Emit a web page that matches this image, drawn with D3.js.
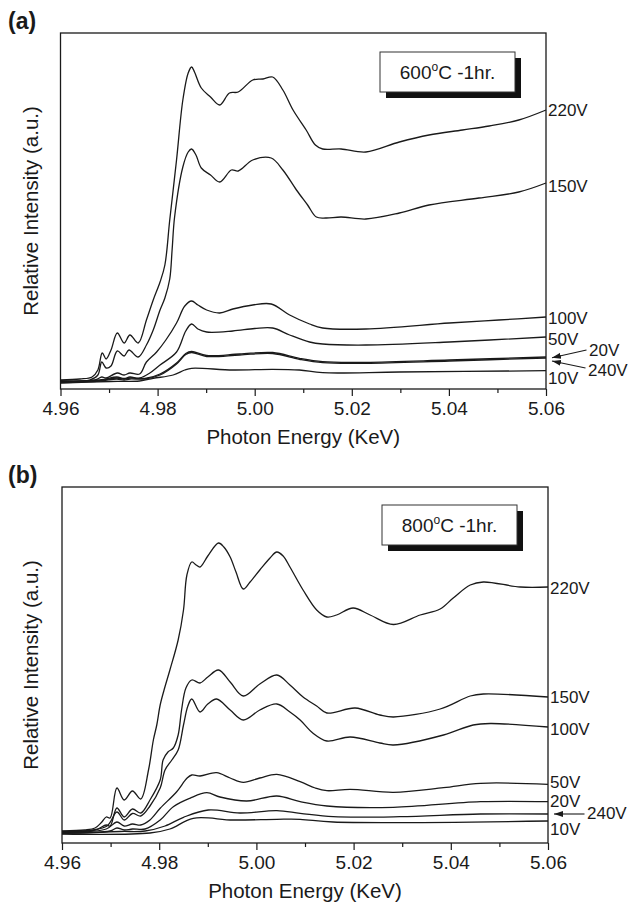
<!DOCTYPE html>
<html>
<head>
<meta charset="utf-8">
<script src="https://cdn.jsdelivr.net/npm/d3@7"></script>
<style>
  body { margin: 0; background: #fff; }
</style>
</head>
<body>
<svg id="chart" width="629" height="903"></svg>
<script>
// x ticks (keV)
const majorTicks = [4.96, 4.98, 5.00, 5.02, 5.04, 5.06];
const minorTicks = [4.97, 4.99, 5.01, 5.03, 5.05];

// (a) 600C - 1hr, [energy keV, relative intensity a.u.]
const a220 = [[4.960,0.09],[4.964,0.10],[4.9665,0.12],[4.9677,0.19],[4.9686,0.36],[4.9694,0.30],[4.9704,0.39],[4.9717,0.56],[4.9731,0.46],[4.9743,0.54],[4.9760,0.46],[4.9777,0.69],[4.9791,0.89],[4.9805,1.07],[4.9815,1.24],[4.9825,1.69],[4.9839,2.29],[4.9852,2.89],[4.9863,3.16],[4.9870,3.22],[4.9876,3.17],[4.9890,3.01],[4.9909,2.92],[4.9928,2.84],[4.9948,2.96],[4.9966,2.97],[4.9996,3.09],[5.0017,3.10],[5.0037,3.12],[5.0058,2.99],[5.0079,2.79],[5.0106,2.59],[5.0125,2.44],[5.0140,2.40],[5.0178,2.40],[5.0229,2.37],[5.0298,2.47],[5.0359,2.54],[5.0428,2.59],[5.0483,2.63],[5.0544,2.69],[5.0600,2.79]];
const a150 = [[4.960,0.08],[4.966,0.09],[4.9677,0.14],[4.9685,0.27],[4.9694,0.21],[4.9704,0.23],[4.9717,0.38],[4.9731,0.33],[4.9741,0.39],[4.9760,0.32],[4.9777,0.44],[4.9791,0.59],[4.9805,0.79],[4.9815,0.91],[4.9825,1.10],[4.9830,1.40],[4.9835,1.72],[4.9852,2.22],[4.9863,2.37],[4.9870,2.40],[4.9879,2.34],[4.9890,2.21],[4.9909,2.14],[4.9928,2.07],[4.9952,2.19],[4.9966,2.18],[4.9996,2.29],[5.0034,2.31],[5.0058,2.19],[5.0086,1.99],[5.0109,1.84],[5.0127,1.72],[5.0147,1.71],[5.0178,1.72],[5.0229,1.70],[5.0298,1.76],[5.0359,1.84],[5.0462,1.91],[5.0544,1.97],[5.0600,2.06]];
const a100 = [[4.960,0.08],[4.9671,0.09],[4.9685,0.12],[4.9694,0.11],[4.9717,0.16],[4.9731,0.14],[4.9743,0.16],[4.9763,0.15],[4.9777,0.27],[4.9798,0.37],[4.9817,0.49],[4.9839,0.66],[4.9856,0.83],[4.9870,0.88],[4.9883,0.84],[4.9901,0.79],[4.9928,0.76],[4.9955,0.80],[4.9996,0.84],[5.0034,0.85],[5.0072,0.74],[5.0113,0.65],[5.0140,0.61],[5.0229,0.60],[5.0401,0.66],[5.0503,0.69],[5.0600,0.72]];
const a50 = [[4.960,0.075],[4.9681,0.09],[4.9716,0.12],[4.9731,0.105],[4.9743,0.12],[4.9763,0.11],[4.9784,0.16],[4.9805,0.24],[4.9839,0.37],[4.9858,0.58],[4.9870,0.65],[4.9883,0.60],[4.9901,0.57],[4.9955,0.58],[5.0000,0.605],[5.0037,0.61],[5.0072,0.54],[5.0113,0.47],[5.0140,0.45],[5.0229,0.44],[5.0401,0.47],[5.0600,0.52]];
const a20 = [[4.960,0.07],[4.9681,0.085],[4.9716,0.11],[4.9731,0.10],[4.9743,0.11],[4.9774,0.105],[4.9805,0.15],[4.9839,0.26],[4.9858,0.355],[4.9870,0.375],[4.9901,0.335],[4.9969,0.35],[5.0037,0.365],[5.0092,0.307],[5.0140,0.273],[5.0229,0.267],[5.0401,0.29],[5.0600,0.32]];
const a240 = [[4.960,0.065],[4.9681,0.08],[4.9716,0.10],[4.9731,0.09],[4.9743,0.10],[4.9774,0.10],[4.9805,0.14],[4.9839,0.25],[4.9858,0.345],[4.9870,0.365],[4.9901,0.325],[4.9969,0.34],[5.0037,0.355],[5.0092,0.297],[5.0140,0.263],[5.0229,0.257],[5.0401,0.28],[5.0600,0.31]];
const a10 = [[4.960,0.06],[4.9702,0.075],[4.9763,0.08],[4.9791,0.107],[4.9832,0.14],[4.9856,0.19],[4.9870,0.207],[4.9955,0.19],[5.0037,0.197],[5.0092,0.19],[5.0140,0.163],[5.0298,0.17],[5.0600,0.183]];

// (b) 800C - 1hr
const b220 = [[4.960,0.12],[4.9647,0.13],[4.9668,0.15],[4.9682,0.21],[4.9691,0.26],[4.9699,0.25],[4.9713,0.55],[4.9728,0.43],[4.9745,0.52],[4.9762,0.44],[4.9778,0.73],[4.9788,1.03],[4.9795,1.18],[4.9802,1.38],[4.9810,1.53],[4.9822,1.73],[4.9839,2.03],[4.9850,2.33],[4.9857,2.68],[4.9867,2.81],[4.9876,2.78],[4.9884,2.76],[4.9900,2.87],[4.9922,3.00],[4.9933,2.96],[4.9946,2.86],[4.9958,2.71],[4.9973,2.54],[4.9987,2.61],[5.0007,2.73],[5.0028,2.85],[5.0042,2.91],[5.0055,2.87],[5.0069,2.76],[5.0096,2.53],[5.0124,2.33],[5.0145,2.26],[5.0165,2.28],[5.0199,2.35],[5.0234,2.28],[5.0282,2.185],[5.0337,2.28],[5.0378,2.34],[5.0405,2.45],[5.0440,2.58],[5.0467,2.61],[5.0543,2.56],[5.0600,2.56]];
const b150 = [[4.960,0.115],[4.9668,0.13],[4.9691,0.18],[4.9699,0.17],[4.9713,0.35],[4.9728,0.26],[4.9745,0.34],[4.9762,0.30],[4.9781,0.43],[4.9802,0.63],[4.9808,0.83],[4.9818,0.91],[4.9829,0.95],[4.9839,1.08],[4.9846,1.33],[4.9855,1.55],[4.9867,1.63],[4.9884,1.60],[4.9900,1.66],[4.9922,1.73],[4.9946,1.61],[4.9973,1.47],[5.0007,1.59],[5.0042,1.68],[5.0069,1.58],[5.0096,1.46],[5.0124,1.37],[5.0145,1.30],[5.0203,1.35],[5.0254,1.28],[5.0282,1.26],[5.0378,1.34],[5.0440,1.47],[5.0467,1.49],[5.0600,1.46]];
const b100 = [[4.960,0.11],[4.9691,0.165],[4.9713,0.31],[4.9728,0.23],[4.9745,0.295],[4.9762,0.27],[4.9781,0.37],[4.9802,0.55],[4.9812,0.73],[4.9826,0.83],[4.9839,0.93],[4.9850,1.18],[4.9859,1.37],[4.9867,1.44],[4.9884,1.31],[4.9900,1.39],[4.9918,1.44],[4.9946,1.33],[4.9973,1.23],[5.0007,1.33],[5.0042,1.39],[5.0069,1.31],[5.0090,1.23],[5.0116,1.10],[5.0145,1.02],[5.0193,1.06],[5.0254,1.00],[5.0282,0.98],[5.0385,1.08],[5.0446,1.18],[5.0481,1.195],[5.0600,1.16]];
const b50 = [[4.960,0.105],[4.9691,0.14],[4.9713,0.21],[4.9728,0.17],[4.9745,0.19],[4.9762,0.18],[4.9781,0.23],[4.9802,0.347],[4.9836,0.513],[4.9857,0.647],[4.9867,0.68],[4.9884,0.67],[4.9918,0.703],[4.9946,0.65],[4.9973,0.607],[5.0007,0.65],[5.0042,0.687],[5.0090,0.613],[5.0121,0.55],[5.0145,0.523],[5.0193,0.537],[5.0282,0.507],[5.0385,0.553],[5.0461,0.597],[5.0600,0.587]];
const b20 = [[4.960,0.10],[4.9699,0.12],[4.9713,0.15],[4.9728,0.13],[4.9745,0.14],[4.9771,0.14],[4.9802,0.23],[4.9829,0.363],[4.9863,0.447],[4.9898,0.503],[4.9925,0.46],[4.9980,0.42],[5.0042,0.47],[5.0090,0.413],[5.0145,0.37],[5.0282,0.357],[5.0461,0.413],[5.0600,0.413]];
const b240 = [[4.960,0.095],[4.9719,0.115],[4.9771,0.12],[4.9812,0.17],[4.9850,0.257],[4.9901,0.33],[4.9966,0.30],[5.0042,0.323],[5.0090,0.297],[5.0158,0.263],[5.0295,0.263],[5.0461,0.29],[5.0600,0.29]];
const b10 = [[4.960,0.09],[4.9781,0.10],[4.9822,0.14],[4.9870,0.247],[4.9952,0.23],[5.0042,0.237],[5.0090,0.237],[5.0158,0.21],[5.0600,0.22]];

const seriesA = [a220, a150, a100, a50, a20, a240, a10];
const seriesB = [b220, b150, b100, b50, b20, b240, b10];

// right-side labels: text, level (a.u.), optional arrow target level
const labelsA = [
  { text: "220V", v: 2.79 }, { text: "150V", v: 2.03 }, { text: "100V", v: 0.71 },
  { text: "50V", v: 0.50 }, { text: "20V", v: 0.39, dx: 43, arrow: 0.313 },
  { text: "240V", v: 0.19, dx: 42, arrow: 0.28, from: 0.21 }, { text: "10V", v: 0.11 }
];
const labelsB = [
  { text: "220V", v: 2.55 }, { text: "150V", v: 1.46 }, { text: "100V", v: 1.14 },
  { text: "50V", v: 0.615 }, { text: "20V", v: 0.425 },
  { text: "240V", v: 0.30, dx: 39, arrow: 0.29, from: 0.29 }, { text: "10V", v: 0.14 }
];

const FONT = "'Liberation Sans', Arial, Helvetica, sans-serif";
const INK = "#1a1a1a";

const svg = d3.select("#chart");

svg.append("defs").append("marker")
  .attr("id", "arrow")
  .attr("viewBox", "0 -4 9 8")
  .attr("refX", 9)
  .attr("refY", 0)
  .attr("markerWidth", 9)
  .attr("markerHeight", 8)
  .attr("markerUnits", "userSpaceOnUse")
  .attr("orient", "auto")
  .append("path")
  .attr("d", "M0,-3L9,0L0,3Z")
  .attr("fill", INK);

drawPanel({ tag: "(a)", note: "600", left: 60.5, right: 546, top: 33, bottom: 389,
  series: seriesA, labels: labelsA, box: [380, 52] });
drawPanel({ tag: "(b)", note: "800", left: 62, right: 548, top: 487, bottom: 843,
  series: seriesB, labels: labelsB, box: [382, 505] });

function drawPanel(p) {
  const x = d3.scaleLinear().domain([4.96, 5.06]).range([p.left, p.right]);
  const y = d3.scaleLinear().domain([0, 3.56]).range([p.bottom, p.top]);
  const g = svg.append("g");

  // panel tag
  g.append("text")
    .attr("x", 8).attr("y", p.top - 4)
    .attr("font-family", FONT).attr("font-size", 23).attr("font-weight", "bold")
    .attr("fill", INK)
    .text(p.tag);

  // frame
  g.append("rect")
    .attr("x", p.left).attr("y", p.top)
    .attr("width", p.right - p.left).attr("height", p.bottom - p.top)
    .attr("fill", "none").attr("stroke", INK).attr("stroke-width", 1.3);

  // minor ticks
  g.append("g")
    .attr("transform", `translate(0,${p.bottom})`)
    .call(d3.axisBottom(x).tickValues(minorTicks).tickSize(4).tickFormat(""))
    .call(a => a.select(".domain").remove())
    .call(a => a.selectAll("line").attr("stroke", INK).attr("stroke-width", 1.2));

  // major ticks + labels
  g.append("g")
    .attr("transform", `translate(0,${p.bottom})`)
    .call(d3.axisBottom(x).tickValues(majorTicks).tickSize(7).tickPadding(5.5)
      .tickFormat(d3.format(".2f")))
    .call(a => a.select(".domain").remove())
    .call(a => a.selectAll("line").attr("stroke", INK).attr("stroke-width", 1.2))
    .call(a => a.selectAll("text").attr("font-family", FONT).attr("font-size", 19).attr("fill", INK));

  // axis titles
  g.append("text")
    .attr("x", (p.left + p.right) / 2).attr("y", p.bottom + 55)
    .attr("text-anchor", "middle")
    .attr("font-family", FONT).attr("font-size", 20.5).attr("fill", INK)
    .text("Photon Energy (KeV)");

  g.append("text")
    .attr("transform", `translate(38,${(p.top + p.bottom) / 2}) rotate(-90)`)
    .attr("text-anchor", "middle")
    .attr("font-family", FONT).attr("font-size", 20.5).attr("fill", INK)
    .text("Relative Intensity (a.u.)");

  // curves
  const line = d3.line()
    .x(d => x(d[0]))
    .y(d => y(d[1]))
    .curve(d3.curveCatmullRom.alpha(0.5));

  g.append("g")
    .selectAll("path")
    .data(p.series)
    .join("path")
    .attr("d", line)
    .attr("fill", "none")
    .attr("stroke", INK)
    .attr("stroke-width", 1.3)
    .attr("stroke-linejoin", "round");

  // right labels
  g.append("g")
    .selectAll("text")
    .data(p.labels)
    .join("text")
    .attr("x", d => p.right + (d.dx || 2))
    .attr("y", d => y(d.v))
    .attr("dy", "0.36em")
    .attr("font-family", FONT).attr("font-size", 17).attr("fill", INK)
    .text(d => d.text);

  g.append("g")
    .selectAll("line")
    .data(p.labels.filter(d => d.arrow != null))
    .join("line")
    .attr("x1", d => p.right + d.dx - 2.5)
    .attr("y1", d => y(d.from != null ? d.from : d.v))
    .attr("x2", p.right + 6)
    .attr("y2", d => y(d.arrow))
    .attr("stroke", INK).attr("stroke-width", 1.1)
    .attr("marker-end", "url(#arrow)");

  // annotation box with shadow
  const [bx, by] = p.box;
  const bw = 135, bh = 40;
  g.append("rect")
    .attr("x", bx + 6).attr("y", by + 6).attr("width", bw).attr("height", bh)
    .attr("fill", "#111");
  g.append("rect")
    .attr("x", bx).attr("y", by).attr("width", bw).attr("height", bh)
    .attr("fill", "#fff").attr("stroke", "#333").attr("stroke-width", 1);
  const t = g.append("text")
    .attr("x", bx + bw / 2).attr("y", by + bh / 2 + 7)
    .attr("text-anchor", "middle")
    .attr("font-family", FONT).attr("font-size", 19).attr("fill", INK);
  t.append("tspan").text(p.note);
  t.append("tspan").attr("font-size", 12).attr("dy", -8).text("o");
  t.append("tspan").attr("dy", 8).text("C -1hr.");
}
</script>
</body>
</html>
